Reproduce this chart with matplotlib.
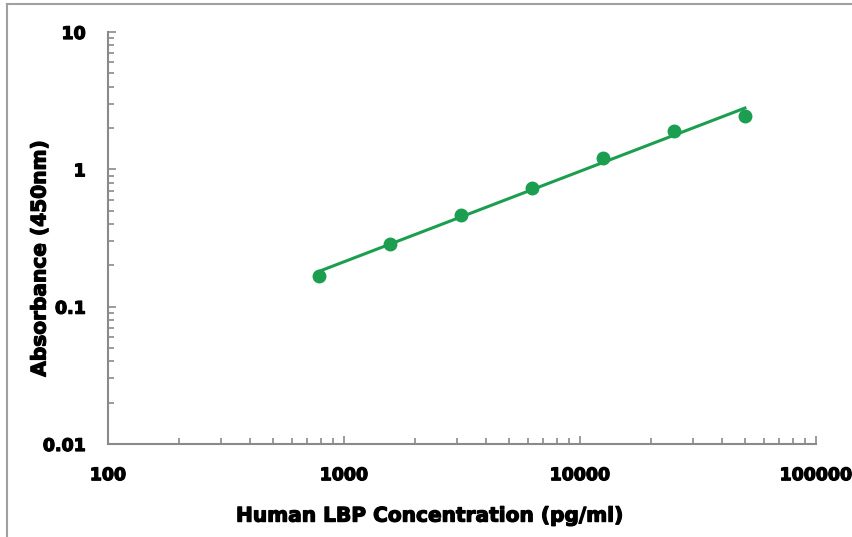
import matplotlib.pyplot as plt
import numpy as np
from matplotlib.lines import Line2D
import matplotlib.patheffects as pe

plt.rcParams['font.family'] = ['DejaVu Sans']

# standard curve data
conc = [781.25, 1562.5, 3125, 6250, 12500, 25000, 50000]
absorb = [0.167, 0.286, 0.465, 0.73, 1.21, 1.90, 2.44]
x_ticks = [100, 1000, 10000, 100000]
x_labels = ['100', '1000', '10000', '100000']
y_ticks = [0.01, 0.1, 1, 10]
y_labels = ['0.01', '0.1', '1', '10']

green = '#1b9e4f'
gray = '#8a8a8a'
heavy = [pe.withStroke(linewidth=0.9, foreground='black')]

fig = plt.figure(figsize=(8.53, 5.37), dpi=100)
ax = fig.add_axes([0.1266, 0.1732, 0.83, 0.7672])

# power trendline fitted in log space
k, b = np.polyfit(np.log10(conc), np.log10(absorb), 1)
xf = np.logspace(np.log10(conc[0]), np.log10(conc[-1]), 50)
ax.plot(xf, 10 ** (k * np.log10(xf) + b), color=green, lw=2.2)
ax.plot(conc, absorb, 'o', color=green, ms=9)

ax.set_xscale('log')
ax.set_yscale('log')
ax.set_xlim(100, 100000)
ax.set_ylim(0.01, 10)
ax.set_xticks(x_ticks)
ax.set_xticklabels(x_labels)
ax.set_yticks(y_ticks)
ax.set_yticklabels(y_labels)

ax.spines['top'].set_visible(False)
ax.spines['right'].set_visible(False)
for s in ['left', 'bottom']:
    ax.spines[s].set_color(gray)
    ax.spines[s].set_linewidth(1.5)

ax.tick_params(which='both', direction='in', color=gray, width=1.2)
ax.tick_params(which='major', length=6, labelsize=12.5)
ax.tick_params(which='minor', length=4)
ax.tick_params(axis='y', which='major', pad=16)
ax.tick_params(axis='x', which='major', pad=16)
for lab in ax.get_xticklabels() + ax.get_yticklabels():
    lab.set_fontweight('bold')
    lab.set_path_effects(heavy)

ax.set_xlabel('Human LBP Concentration (pg/ml)', fontsize=14.5, fontweight='bold',
              va='center', path_effects=heavy)
ax.xaxis.set_label_coords(0.455, -0.175)
ax.set_ylabel('Absorbance (450nm)', fontsize=14.5, fontweight='bold',
              va='center', path_effects=heavy)
ax.yaxis.set_label_coords(-0.096, 0.451)

# picture frame (top and left edges)
fig.add_artist(Line2D([7 / 853, 7 / 853], [0, 1 - 4 / 537], color='#a0a0a0', lw=1.5))
fig.add_artist(Line2D([7 / 853, 1], [1 - 4 / 537, 1 - 4 / 537], color='#a0a0a0', lw=1.5))

fig.savefig('out.png', dpi=100)
